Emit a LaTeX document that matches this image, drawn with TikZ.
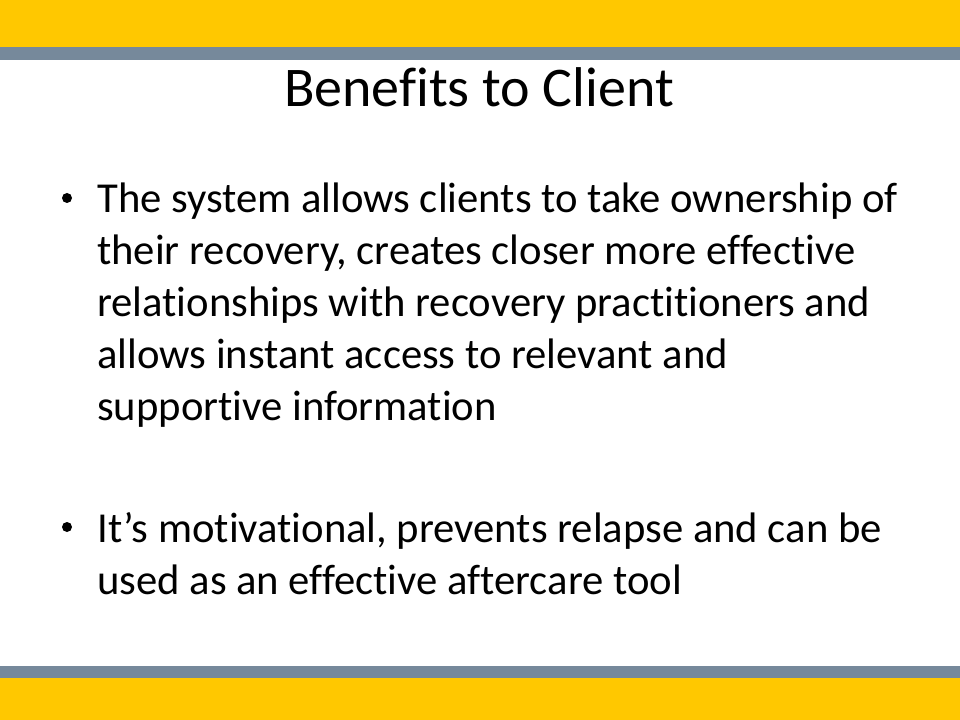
\documentclass[tikz,border=0pt]{standalone}
\usepackage{fontspec}
\setmainfont{Carlito}[Ligatures={NoCommon}]
\usepackage{tikz}
\usetikzlibrary{calc}
\definecolor{myyellow}{RGB}{255, 200, 0}
\definecolor{mygray}{RGB}{118, 137, 155}

\begin{document}
\begin{tikzpicture}[x=0.75pt,y=-0.75pt]

\tikzstyle{band-y} = [fill=myyellow, draw=none]
\tikzstyle{band-g} = [fill=mygray, draw=none]
\tikzstyle{title} = [inner sep=0, anchor=base, font=\fontsize{42}{50}\selectfont]
\tikzstyle{dot} = [circle, fill=black, inner sep=0, minimum size=7.5]
\tikzstyle{body} = [inner sep=0, anchor=base west, font=\fontsize{32}{39}\selectfont]

\useasboundingbox (0,0) rectangle (960,720);

\fill[white] (0,0) rectangle (960,720);
\fill[band-y] (0,0) rectangle (960,47);
\fill[band-g] (0,47) rectangle (960,60);
\fill[band-g] (0,666) rectangle (960,678);
\fill[band-y] (0,678) rectangle (960,720);

\node [title] (title) at (479,107) {Benefits to Client};

\node [dot] (dot1) at (67,198) {};
\node [body] (item1) at (97,213) {\begin{tabular}[t]{@{}l@{}}The system allows clients to take ownership of\\ their recovery, creates closer more effective\\ relationships with recovery practitioners and\\ allows instant access to relevant and\\ supportive information\end{tabular}};

\node [dot] (dot2) at (67,527) {};
\node [body] (item2) at (97,542) {\begin{tabular}[t]{@{}l@{}}It’s motivational, prevents relapse and can be\\ used as an effective aftercare tool\end{tabular}};

\end{tikzpicture}
\end{document}
